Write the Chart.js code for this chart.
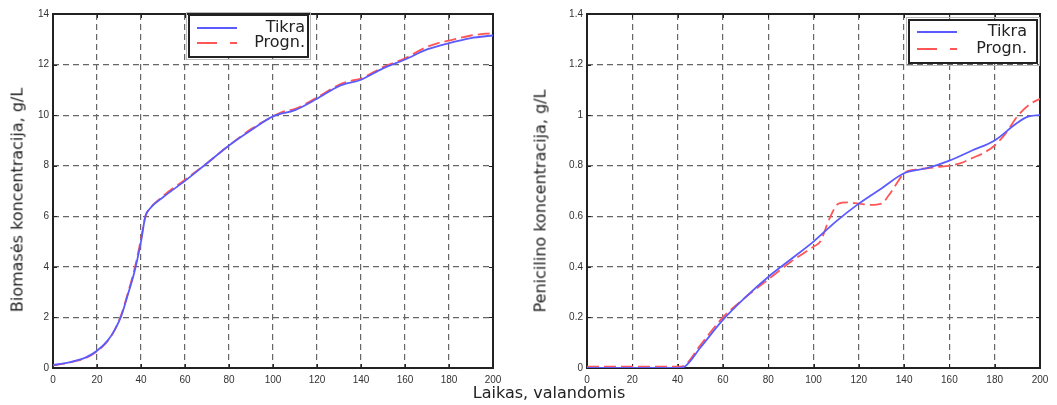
<!DOCTYPE html>
<html>
<head>
<meta charset="utf-8">
<script src="https://cdn.jsdelivr.net/npm/chart.js@4.4.1/dist/chart.umd.min.js"></script>
<style>
    html, body { margin: 0; padding: 0; background: #fff; }
    #wrap { position: relative; width: 1057px; height: 405px; background: #fff; overflow: hidden; }
    canvas { position: absolute; top: 0; }
    .title {
        position: absolute;
        font-family: 'DejaVu Sans', sans-serif;
        font-size: 16px;
        color: #222;
        white-space: nowrap;
        transform: translate(-50%, -50%);
    }
    .title.rot { transform: translate(-50%, -50%) rotate(-90deg); }
</style>
</head>
<body>
<div id="wrap">
    <canvas id="biomassChart" width="520" height="405" style="left:0;width:520px;height:405px"></canvas>
    <canvas id="penChart" width="537" height="405" style="left:520px;width:537px;height:405px"></canvas>
    <div class="title rot" style="left:17px;top:200px">Biomasės koncentracija, g/L</div>
    <div class="title rot" style="left:540px;top:201px">Penicilino koncentracija, g/L</div>
    <div class="title" style="left:549px;top:392px">Laikas, valandomis</div>
</div>
<script>
// Biomass (left)
const biomassRealX = [0, 5, 10, 15, 20, 25, 28, 31, 34, 37, 40, 42, 44, 50, 60, 70, 80, 90, 100, 110, 120, 130, 140, 150, 160, 170, 180, 190, 200];
const biomassRealY = [0.12, 0.18, 0.28, 0.42, 0.68, 1.1, 1.5, 2.05, 2.9, 3.8, 5.0, 6.0, 6.3, 6.75, 7.4, 8.1, 8.8, 9.4, 9.95, 10.2, 10.65, 11.15, 11.4, 11.85, 12.2, 12.6, 12.85, 13.05, 13.15];
const biomassPredX = [0, 5, 10, 15, 20, 25, 28, 31, 34, 37, 40, 42, 44, 50, 60, 70, 80, 90, 100, 105, 110, 120, 130, 135, 140, 150, 160, 170, 175, 180, 190, 200];
const biomassPredY = [0.1, 0.17, 0.27, 0.4, 0.66, 1.08, 1.5, 2.1, 2.95, 3.9, 5.1, 6.0, 6.3, 6.8, 7.45, 8.1, 8.8, 9.45, 9.95, 10.15, 10.25, 10.7, 11.2, 11.35, 11.45, 11.9, 12.25, 12.7, 12.85, 12.95, 13.15, 13.25];

// Penicillin (right)
const penRealX = [0, 10, 20, 30, 40, 43, 50, 60, 70, 80, 90, 100, 110, 120, 130, 140, 150, 160, 170, 180, 190, 195, 200];
const penRealY = [0, 0, 0, 0, 0, 0.005, 0.08, 0.19, 0.28, 0.36, 0.43, 0.5, 0.58, 0.65, 0.71, 0.77, 0.79, 0.82, 0.86, 0.9, 0.97, 0.995, 1.0];
const penPredX = [0, 10, 20, 30, 40, 43, 50, 60, 70, 80, 90, 100, 103, 107, 111, 115, 120, 125, 130, 133, 136, 140, 145, 150, 155, 160, 165, 170, 175, 180, 185, 190, 195, 200];
const penPredY = [0.005, 0.005, 0.005, 0.005, 0.005, 0.01, 0.09, 0.2, 0.28, 0.35, 0.42, 0.48, 0.5, 0.59, 0.65, 0.655, 0.65, 0.645, 0.65, 0.68, 0.72, 0.77, 0.785, 0.79, 0.795, 0.8, 0.81, 0.83, 0.85, 0.88, 0.93, 0.995, 1.04, 1.065];

// Tick labels
const timeTicks = ['0', '20', '40', '60', '80', '100', '120', '140', '160', '180', '200'];
const biomassTicks = ['0', '2', '4', '6', '8', '10', '12', '14'];
const penTicks = ['0', '0.2', '0.4', '0.6', '0.8', '1', '1.2', '1.4'];
const seriesNames = ['Tikra', 'Progn.'];

const BLUE = '#5a5aff';
const RED = '#ff5656';
const TICK_FONT = { family: "'Liberation Sans', Arial, sans-serif", size: 10 };

function toPoints(xs, ys) {
    return xs.map((x, i) => ({ x, y: ys[i] }));
}

// solid frame + little inward ticks, matlab style
const framePlugin = {
    id: 'frame',
    beforeDatasetsDraw(chart) {
        const { ctx, chartArea: a, scales } = chart;
        ctx.save();
        ctx.strokeStyle = '#222';
        ctx.lineWidth = 1;
        ctx.beginPath();
        scales.x.ticks.forEach(t => {
            const px = Math.round(scales.x.getPixelForValue(t.value)) + 0.5;
            ctx.moveTo(px, a.bottom); ctx.lineTo(px, a.bottom - 4);
            ctx.moveTo(px, a.top); ctx.lineTo(px, a.top + 4);
        });
        scales.y.ticks.forEach(t => {
            const py = Math.round(scales.y.getPixelForValue(t.value)) + 0.5;
            ctx.moveTo(a.left, py); ctx.lineTo(a.left + 4, py);
            ctx.moveTo(a.right, py); ctx.lineTo(a.right - 4, py);
        });
        ctx.stroke();
        ctx.lineWidth = 2;
        ctx.strokeRect(a.left, a.top, a.right - a.left, a.bottom - a.top);
        ctx.restore();
    }
};

// boxed legend like the original figure
const boxLegendPlugin = {
    id: 'boxLegend',
    afterDraw(chart, args, opts) {
        const { ctx } = chart;
        const b = opts.box;
        ctx.save();
        ctx.fillStyle = '#fff';
        ctx.fillRect(b.x, b.y, b.w, b.h);
        ctx.strokeStyle = '#bbb';
        ctx.lineWidth = 1;
        ctx.strokeRect(b.x - 2.5, b.y - 2.5, b.w + 5, b.h + 5);
        ctx.strokeStyle = '#222';
        ctx.lineWidth = 2;
        ctx.strokeRect(b.x, b.y, b.w, b.h);

        ctx.font = "16px 'DejaVu Sans', sans-serif";
        ctx.fillStyle = '#222';
        ctx.textAlign = 'right';
        ctx.textBaseline = 'middle';
        chart.data.datasets.forEach((ds, i) => {
            const ly = b.y + opts.rows[i];
            ctx.strokeStyle = ds.borderColor;
            ctx.lineWidth = 2;
            ctx.setLineDash(ds.borderDash && ds.borderDash.length ? [20, 13] : []);
            ctx.beginPath();
            ctx.moveTo(b.x + 8, ly);
            ctx.lineTo(b.x + 48, ly);
            ctx.stroke();
            ctx.setLineDash([]);
            ctx.fillText(ds.label, b.x + b.w - opts.textPad, ly);
        });
        ctx.restore();
    }
};

function makeChart(canvasId, real, pred, yMax, yStep, yLabels, yWidth, pad, legendOpts) {
    const ctx = document.getElementById(canvasId).getContext('2d');
    return new Chart(ctx, {
        type: 'line',
        data: {
            datasets: [
                {
                    label: seriesNames[0],
                    data: real,
                    borderColor: BLUE,
                    borderWidth: 1.8,
                    pointRadius: 0,
                    cubicInterpolationMode: 'monotone',
                    fill: false
                },
                {
                    label: seriesNames[1],
                    data: pred,
                    borderColor: RED,
                    borderWidth: 1.8,
                    borderDash: [12, 5],
                    pointRadius: 0,
                    cubicInterpolationMode: 'monotone',
                    fill: false
                }
            ]
        },
        options: {
            responsive: false,
            animation: false,
            devicePixelRatio: 1,
            layout: { padding: pad },
            plugins: {
                legend: { display: false },
                tooltip: { enabled: false },
                boxLegend: legendOpts
            },
            scales: {
                x: {
                    type: 'linear',
                    min: 0,
                    max: 200,
                    ticks: {
                        stepSize: 20,
                        maxRotation: 0,
                        autoSkip: false,
                        padding: 6,
                        color: '#333',
                        font: TICK_FONT,
                        callback: (v, i) => timeTicks[i]
                    },
                    grid: { color: '#666', lineWidth: 1.2, drawTicks: false },
                    border: { display: false, dash: [6, 4] },
                    afterFit: s => { s.height = 37; }
                },
                y: {
                    type: 'linear',
                    min: 0,
                    max: yMax,
                    ticks: {
                        stepSize: yStep,
                        autoSkip: false,
                        padding: 4,
                        color: '#333',
                        font: TICK_FONT,
                        callback: (v, i) => yLabels[i]
                    },
                    grid: { color: '#666', lineWidth: 1.2, drawTicks: false },
                    border: { display: false, dash: [6, 4] },
                    afterFit: s => { s.width = yWidth; }
                }
            }
        },
        plugins: [framePlugin, boxLegendPlugin]
    });
}

makeChart('biomassChart',
    toPoints(biomassRealX, biomassRealY),
    toPoints(biomassPredX, biomassPredY),
    14, 2, biomassTicks, 53,
    { top: 14, right: 27, left: 0, bottom: 0 },
    { box: { x: 189, y: 15, w: 119, h: 42 }, rows: [13, 28], textPad: 3 }
);

makeChart('penChart',
    toPoints(penRealX, penRealY),
    toPoints(penPredX, penPredY),
    1.4, 0.2, penTicks, 67,
    { top: 14, right: 17, left: 0, bottom: 0 },
    { box: { x: 389, y: 20, w: 128, h: 43 }, rows: [12, 29], textPad: 10 }
);
</script>
</body>
</html>
